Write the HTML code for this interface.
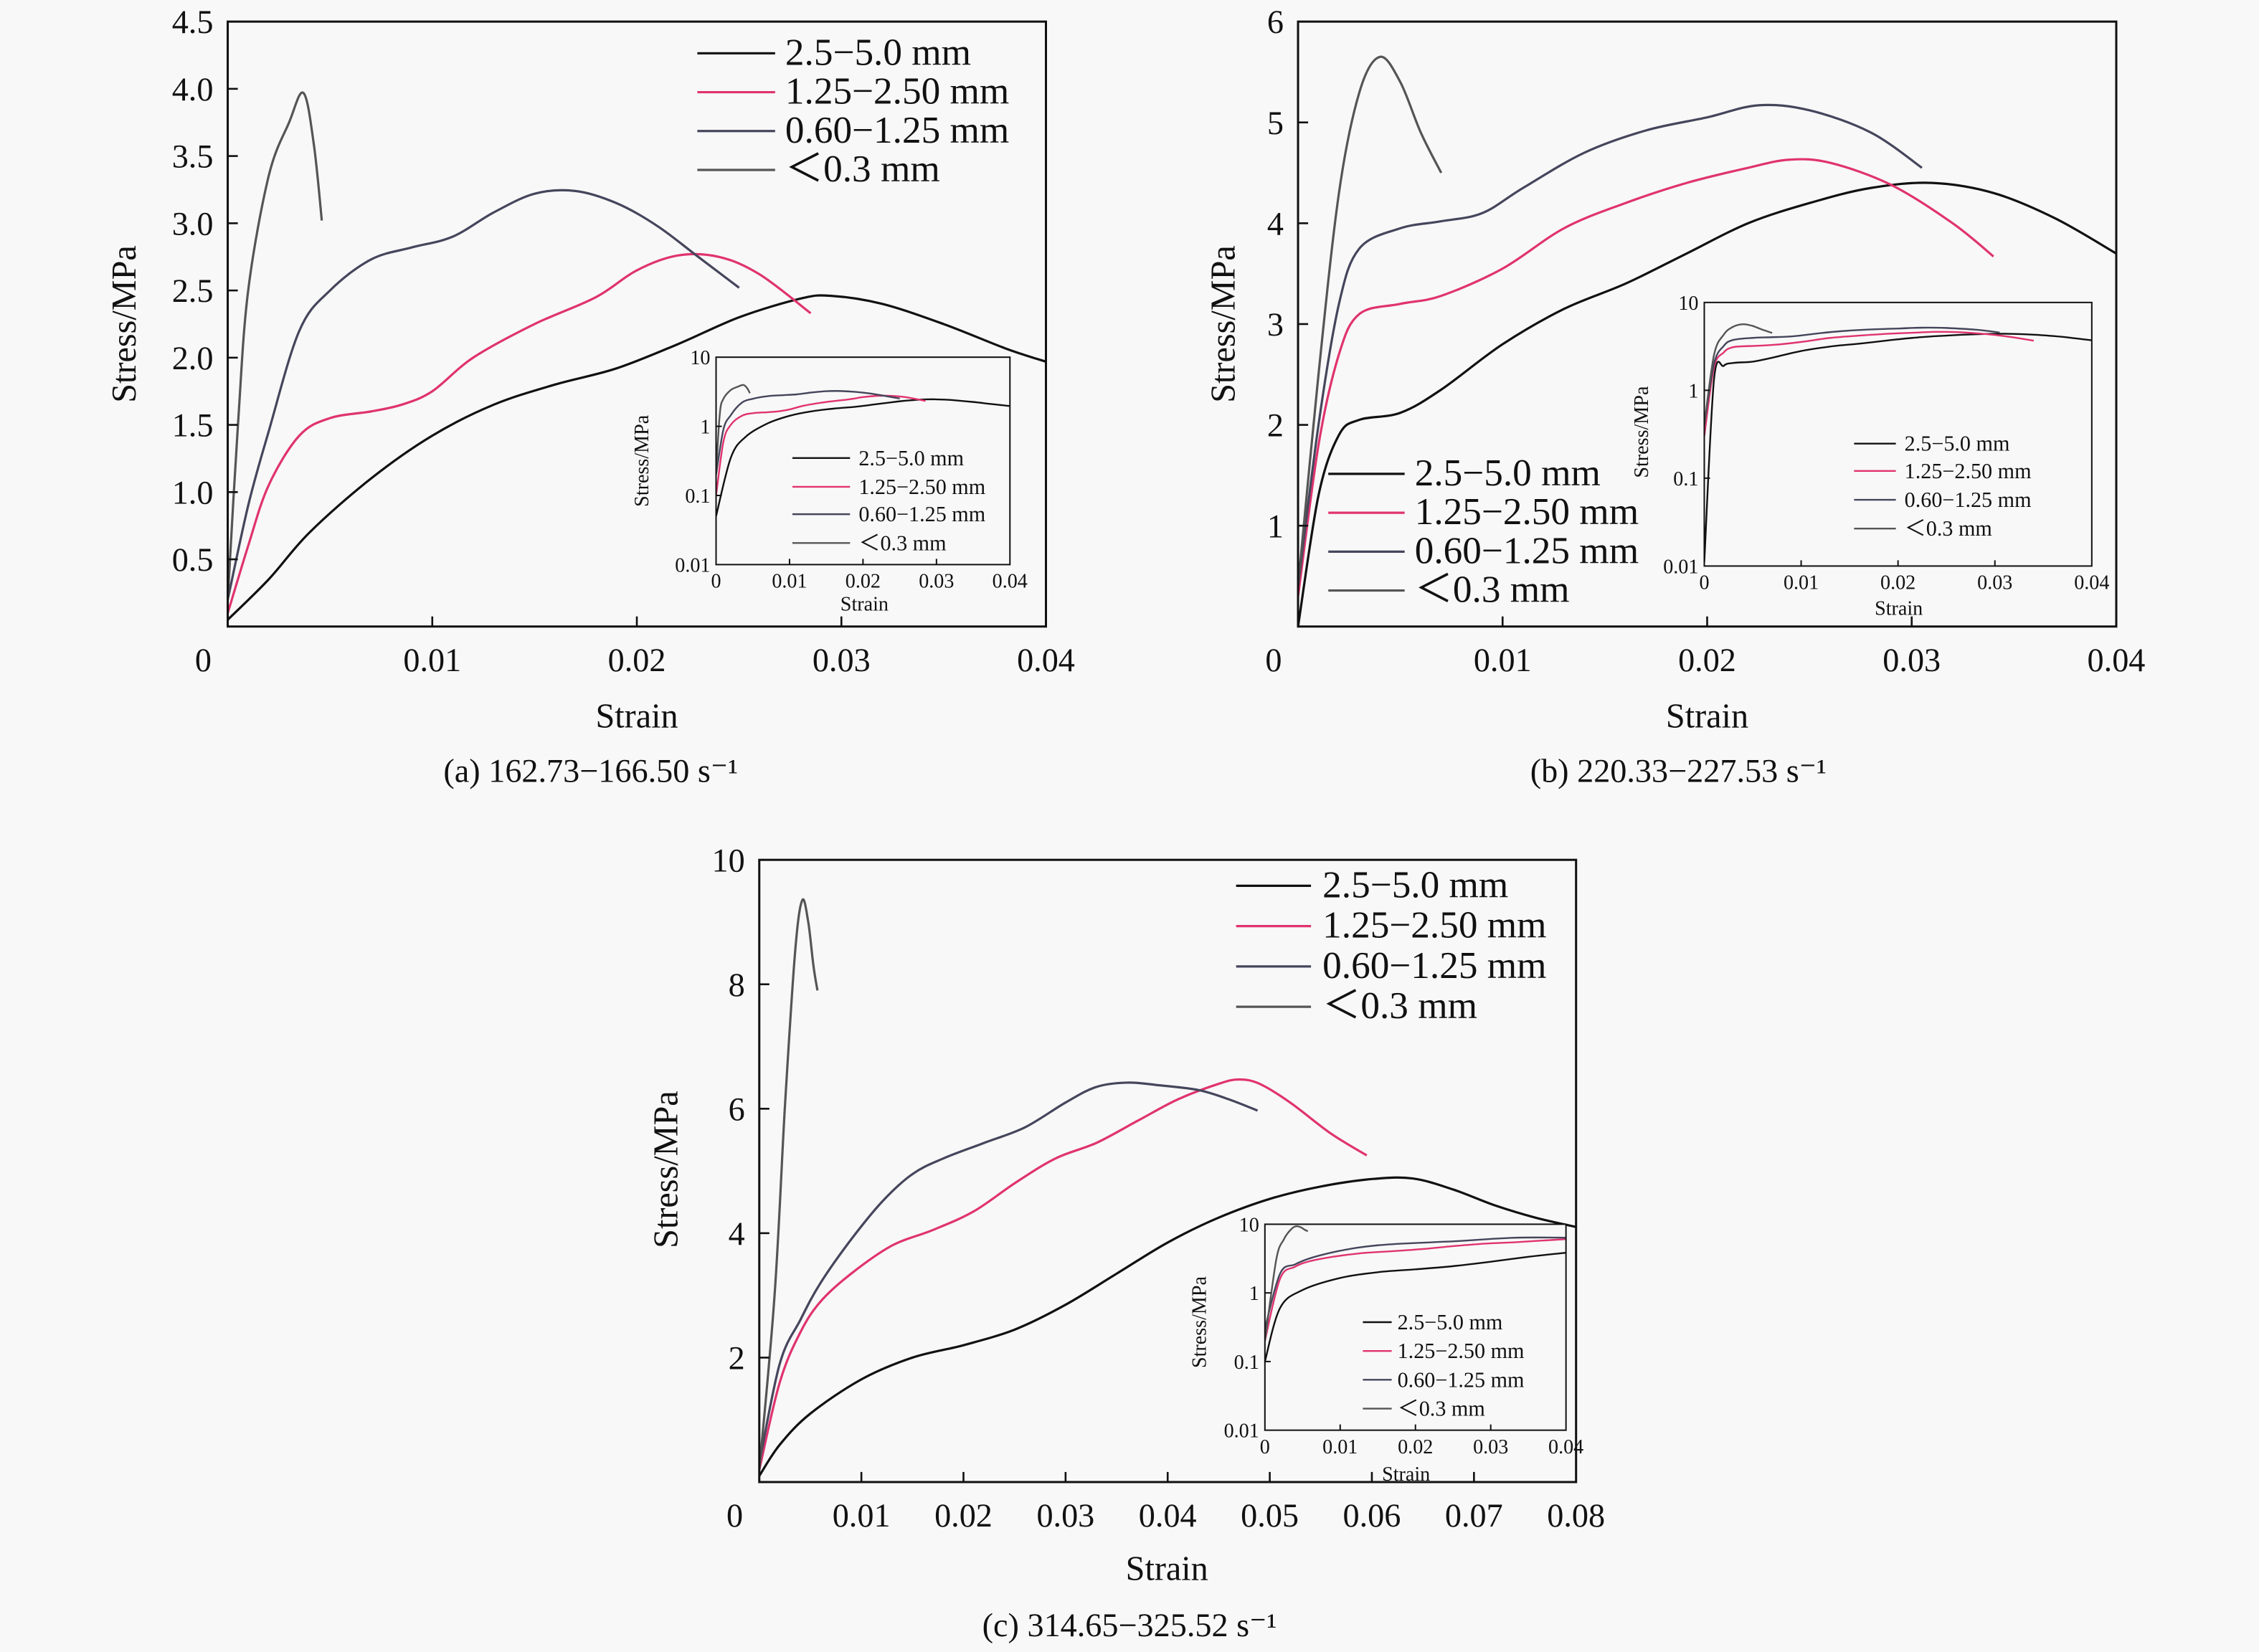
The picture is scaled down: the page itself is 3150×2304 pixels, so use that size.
<!DOCTYPE html>
<html><head><meta charset="utf-8"><style>
html,body{margin:0;padding:0;background:#f8f8f8}
svg{display:block}
text{font-family:"Liberation Serif",serif;fill:#111}
</style></head><body>
<svg id="fig" xmlns="http://www.w3.org/2000/svg" width="3150" height="2304" viewBox="0 0 1568 1147">
<rect x="0" y="0" width="1568" height="1147" fill="#f8f8f8"/>
</svg>
<script>
const seriesNames = ["2.5\u22125.0 mm","1.25\u22122.50 mm","0.60\u22121.25 mm","\uFF1C0.3 mm"];
const seriesColors = ["#111111","#e0336f","#45465c","#555555"];
// panel a
const aBlack=[[0,0.05],[0.002,0.35],[0.004,0.7],[0.007,1.1],[0.01,1.42],[0.013,1.65],[0.016,1.8],[0.019,1.92],[0.022,2.1],[0.025,2.3],[0.028,2.44],[0.0295,2.46],[0.032,2.4],[0.035,2.25],[0.038,2.07],[0.04,1.97]];
const aRed=[[0,0.1],[0.001,0.6],[0.002,1.05],[0.0035,1.42],[0.005,1.55],[0.007,1.6],[0.0085,1.65],[0.01,1.75],[0.012,2.0],[0.015,2.25],[0.018,2.45],[0.02,2.65],[0.022,2.76],[0.024,2.75],[0.026,2.62],[0.0285,2.33]];
const aBlue=[[0,0.2],[0.001,0.9],[0.002,1.45],[0.0035,2.2],[0.005,2.5],[0.007,2.73],[0.009,2.82],[0.011,2.9],[0.013,3.08],[0.015,3.22],[0.017,3.24],[0.019,3.15],[0.021,2.98],[0.023,2.75],[0.025,2.52]];
const aGray=[[0,0.2],[0.0005,1.5],[0.001,2.5],[0.002,3.35],[0.003,3.75],[0.0037,3.97],[0.0042,3.6],[0.0046,3.02]];
// panel b
const bBlack=[[0,0],[0.001,1.3],[0.002,1.9],[0.003,2.05],[0.005,2.12],[0.007,2.35],[0.01,2.8],[0.013,3.15],[0.016,3.4],[0.019,3.7],[0.022,4.0],[0.025,4.2],[0.028,4.35],[0.031,4.4],[0.034,4.3],[0.037,4.05],[0.04,3.7]];
const bRed=[[0,0.3],[0.001,1.8],[0.002,2.7],[0.003,3.1],[0.005,3.2],[0.007,3.28],[0.01,3.55],[0.013,3.95],[0.016,4.2],[0.019,4.4],[0.022,4.55],[0.024,4.63],[0.026,4.6],[0.029,4.38],[0.032,4.0],[0.034,3.67]];
const bBlue=[[0,0.4],[0.001,2.0],[0.002,3.2],[0.003,3.75],[0.005,3.95],[0.007,4.02],[0.009,4.1],[0.011,4.35],[0.014,4.7],[0.017,4.92],[0.02,5.05],[0.0225,5.17],[0.025,5.12],[0.028,4.9],[0.0305,4.55]];
const bGray=[[0,0.4],[0.001,2.5],[0.002,4.3],[0.003,5.3],[0.004,5.65],[0.005,5.4],[0.006,4.9],[0.007,4.5]];
// panel c
const cBlack=[[0,0.1],[0.002,0.6],[0.005,1.1],[0.01,1.65],[0.015,2.0],[0.02,2.2],[0.025,2.45],[0.03,2.85],[0.035,3.35],[0.04,3.85],[0.045,4.25],[0.05,4.55],[0.055,4.75],[0.06,4.87],[0.064,4.88],[0.068,4.7],[0.072,4.45],[0.076,4.25],[0.08,4.1]];
const cRed=[[0,0.2],[0.002,1.6],[0.004,2.4],[0.006,2.9],[0.009,3.35],[0.013,3.8],[0.017,4.05],[0.021,4.35],[0.025,4.8],[0.029,5.2],[0.033,5.45],[0.037,5.8],[0.041,6.15],[0.045,6.4],[0.047,6.47],[0.049,6.4],[0.052,6.1],[0.056,5.6],[0.0595,5.25]];
const cBlue=[[0,0.3],[0.002,1.9],[0.004,2.6],[0.006,3.2],[0.009,3.9],[0.012,4.5],[0.015,4.95],[0.018,5.2],[0.022,5.45],[0.026,5.7],[0.03,6.1],[0.033,6.35],[0.036,6.42],[0.039,6.38],[0.043,6.3],[0.046,6.15],[0.0488,5.97]];
const cGray=[[0,0.2],[0.0015,3],[0.0025,6],[0.0035,8.5],[0.0042,9.35],[0.0048,9.0],[0.0053,8.3],[0.0057,7.9]];
const aYTicks=["0.5","1.0","1.5","2.0","2.5","3.0","3.5","4.0","4.5"];
const bYTicks=["1","2","3","4","5","6"];
const cYTicks=["2","4","6","8","10"];
const abXTicks=["0","0.01","0.02","0.03","0.04"];
const cXTicks=["0","0.01","0.02","0.03","0.04","0.05","0.06","0.07","0.08"];
const insetYTicks=["0.01","0.1","1","10"];
const insetXTicks=["0","0.01","0.02","0.03","0.04"];

const svg=document.getElementById('fig');
const NS="http://www.w3.org/2000/svg";
function el(tag,attrs,parent){const e=document.createElementNS(NS,tag);for(const k in attrs)e.setAttribute(k,attrs[k]);(parent||svg).appendChild(e);return e;}
function txt(s,x,y,size,anchor,parent,extra){const t=el('text',Object.assign({x:x,y:y,'font-size':size,'text-anchor':anchor||'middle'},extra||{}),parent);t.textContent=s;return t;}
function smooth(pts){
  let d='M'+pts[0][0].toFixed(1)+','+pts[0][1].toFixed(1);
  for(let i=0;i<pts.length-1;i++){
    const p0=pts[Math.max(0,i-1)],p1=pts[i],p2=pts[i+1],p3=pts[Math.min(pts.length-1,i+2)];
    const c1=[p1[0]+(p2[0]-p0[0])/6,p1[1]+(p2[1]-p0[1])/6];
    const c2=[p2[0]-(p3[0]-p1[0])/6,p2[1]-(p3[1]-p1[1])/6];
    d+='C'+c1[0].toFixed(1)+','+c1[1].toFixed(1)+' '+c2[0].toFixed(1)+','+c2[1].toFixed(1)+' '+p2[0].toFixed(1)+','+p2[1].toFixed(1);
  }
  return d;
}

function panel(id,box,xmax,ymax,yTicks,xTicks,series,leg,inset,titles){
  const g=el('g',{});
  
  
  const [x0,y0,x1,y1]=box;
  const sx=v=>x0+v/xmax*(x1-x0), sy=v=>y1-v/ymax*(y1-y0);
  const cp=el('clipPath',{id:'clip'+id},g);el('rect',{x:x0,y:y0,width:x1-x0,height:y1-y0},cp);
  series.forEach((d,i)=>{
    const p=el('path',{d:smooth(d.map(q=>[sx(q[0]),sy(q[1])])),fill:'none',stroke:seriesColors[i],'stroke-width':1.6,'clip-path':'url(#clip'+id+')'},g);
    
    
  });
  const fr=el('rect',{x:x0,y:y0,width:x1-x0,height:y1-y0,fill:'none',stroke:'#111','stroke-width':1.5},g);
  
  
  const ys=ymax/yTicks.length;
  yTicks.forEach((t,i)=>{const v=(i+1)*ys;const y=sy(v);
    if(i<yTicks.length-1)el('line',{x1:x0,y1:y,x2:x0+7,y2:y,stroke:'#111','stroke-width':1.3},g);
    const l=txt(t,x0-10,y+8,23,'end',g);
    
    
  });
  const xs=xmax/(xTicks.length-1);
  xTicks.forEach((t,i)=>{const x=sx(i*xs);
    if(i>0&&i<xTicks.length-1)el('line',{x1:x,y1:y1,x2:x,y2:y1-7,stroke:'#111','stroke-width':1.3},g);
    const l=txt(t,i==0?x-17:x,y1+31,23,'middle',g);
    
    
  });
  const yt=txt('Stress/MPa',0,0,24,'middle',g,{transform:`translate(${titles[0]},${titles[1]}) rotate(-90)`});
  
  
  const xt=txt('Strain',titles[2],titles[3],24,'middle',g);
  
  
  const cap=txt(titles[4],titles[5],titles[6],23,'middle',g);
  
  
  const [lx1,lx2,ltx,lys,lfs]=leg;
  lys.forEach((y,i)=>{
    el('line',{x1:lx1,y1:y,x2:lx2,y2:y,stroke:seriesColors[i],'stroke-width':1.6},g);
    const l=txt(seriesNames[i],ltx,y+8,lfs,'start',g);
    
    
  });
  const [ix0,iy0,ix1,iy1]=inset.box;
  const ig=el('g',{},g);
  
  
  const isx=v=>ix0+v/0.04*(ix1-ix0), isy=v=>iy1-(Math.log10(Math.max(v,0.011))+2)/3*(iy1-iy0);
  const icp=el('clipPath',{id:'iclip'+id},ig);el('rect',{x:ix0,y:iy0,width:ix1-ix0,height:iy1-iy0},icp);
  el('rect',{x:ix0,y:iy0,width:ix1-ix0,height:iy1-iy0,fill:'#f8f8f8'},ig);
  series.forEach((d,i)=>{
    const p=el('path',{d:smooth(d.map(q=>[isx(q[0]),isy(q[1])])),fill:'none',stroke:seriesColors[i],'stroke-width':1.2,'clip-path':'url(#iclip'+id+')'},ig);
    
    
  });
  el('rect',{x:ix0,y:iy0,width:ix1-ix0,height:iy1-iy0,fill:'none',stroke:'#111','stroke-width':1},ig);
  insetYTicks.forEach((t,i)=>{const y=iy1-i/3*(iy1-iy0);
    if(i>0&&i<3)el('line',{x1:ix0,y1:y,x2:ix0+4,y2:y,stroke:'#111'},ig);
    const l=txt(t,ix0-4,y+5,14,'end',ig);
    
    
  });
  insetXTicks.forEach((t,i)=>{const x=ix0+i/4*(ix1-ix0);
    if(i>0&&i<4)el('line',{x1:x,y1:iy1,x2:x,y2:iy1-4,stroke:'#111'},ig);
    const l=txt(t,x,iy1+16,14,'middle',ig);
    
    
  });
  const iyt=txt('Stress/MPa',0,0,14,'middle',ig,{transform:`translate(${inset.yl[0]},${inset.yl[1]}) rotate(-90)`});
  
  
  const ixt=txt('Strain',inset.xl[0],inset.xl[1],14,'middle',ig);
  
  
  const [il1,il2,ilt,ilys]=inset.leg;
  ilys.forEach((y,i)=>{
    el('line',{x1:il1,y1:y,x2:il2,y2:y,stroke:seriesColors[i],'stroke-width':1.2},ig);
    const l=txt(seriesNames[i],ilt,y+5,15,'start',ig);
    
    
  });
}
panel('a',[158,15,726,435],0.04,4.5,aYTicks,abXTicks,[aBlack,aRed,aBlue,aGray],
  [484,538,545,[37,64,91,118],26.5],
  {box:[497,248,701,392],yl:[450,320],xl:[600,424],leg:[550,590,596,[318,338,357,377]]},
  [94,225,442,505,'(a) 162.73\u2212166.50 s\u207B\u00B9',410,543]);
panel('b',[901,15,1469,435],0.04,6,bYTicks,abXTicks,[bBlack,bRed,bBlue,bGray],
  [922,975,982,[329,356,383,410],26.5],
  {box:[1183,210,1452,393],yl:[1144,300],xl:[1318,427],leg:[1287,1316,1322,[308,327,347,367]]},
  [857,225,1185,505,'(b) 220.33\u2212227.53 s\u207B\u00B9',1165,543]);
panel('c',[527,597,1094,1029],0.08,10,cYTicks,cXTicks,[cBlack,cRed,cBlue,cGray],
  [858,910,918,[615,643,671,699],26.5],
  {box:[878,850,1087,993],yl:[837,918],xl:[976,1028],leg:[946,966,970,[918,938,958,978]]},
  [470,812,810,1097,'(c) 314.65\u2212325.52 s\u207B\u00B9',784,1136]);
</script>
</body></html>
